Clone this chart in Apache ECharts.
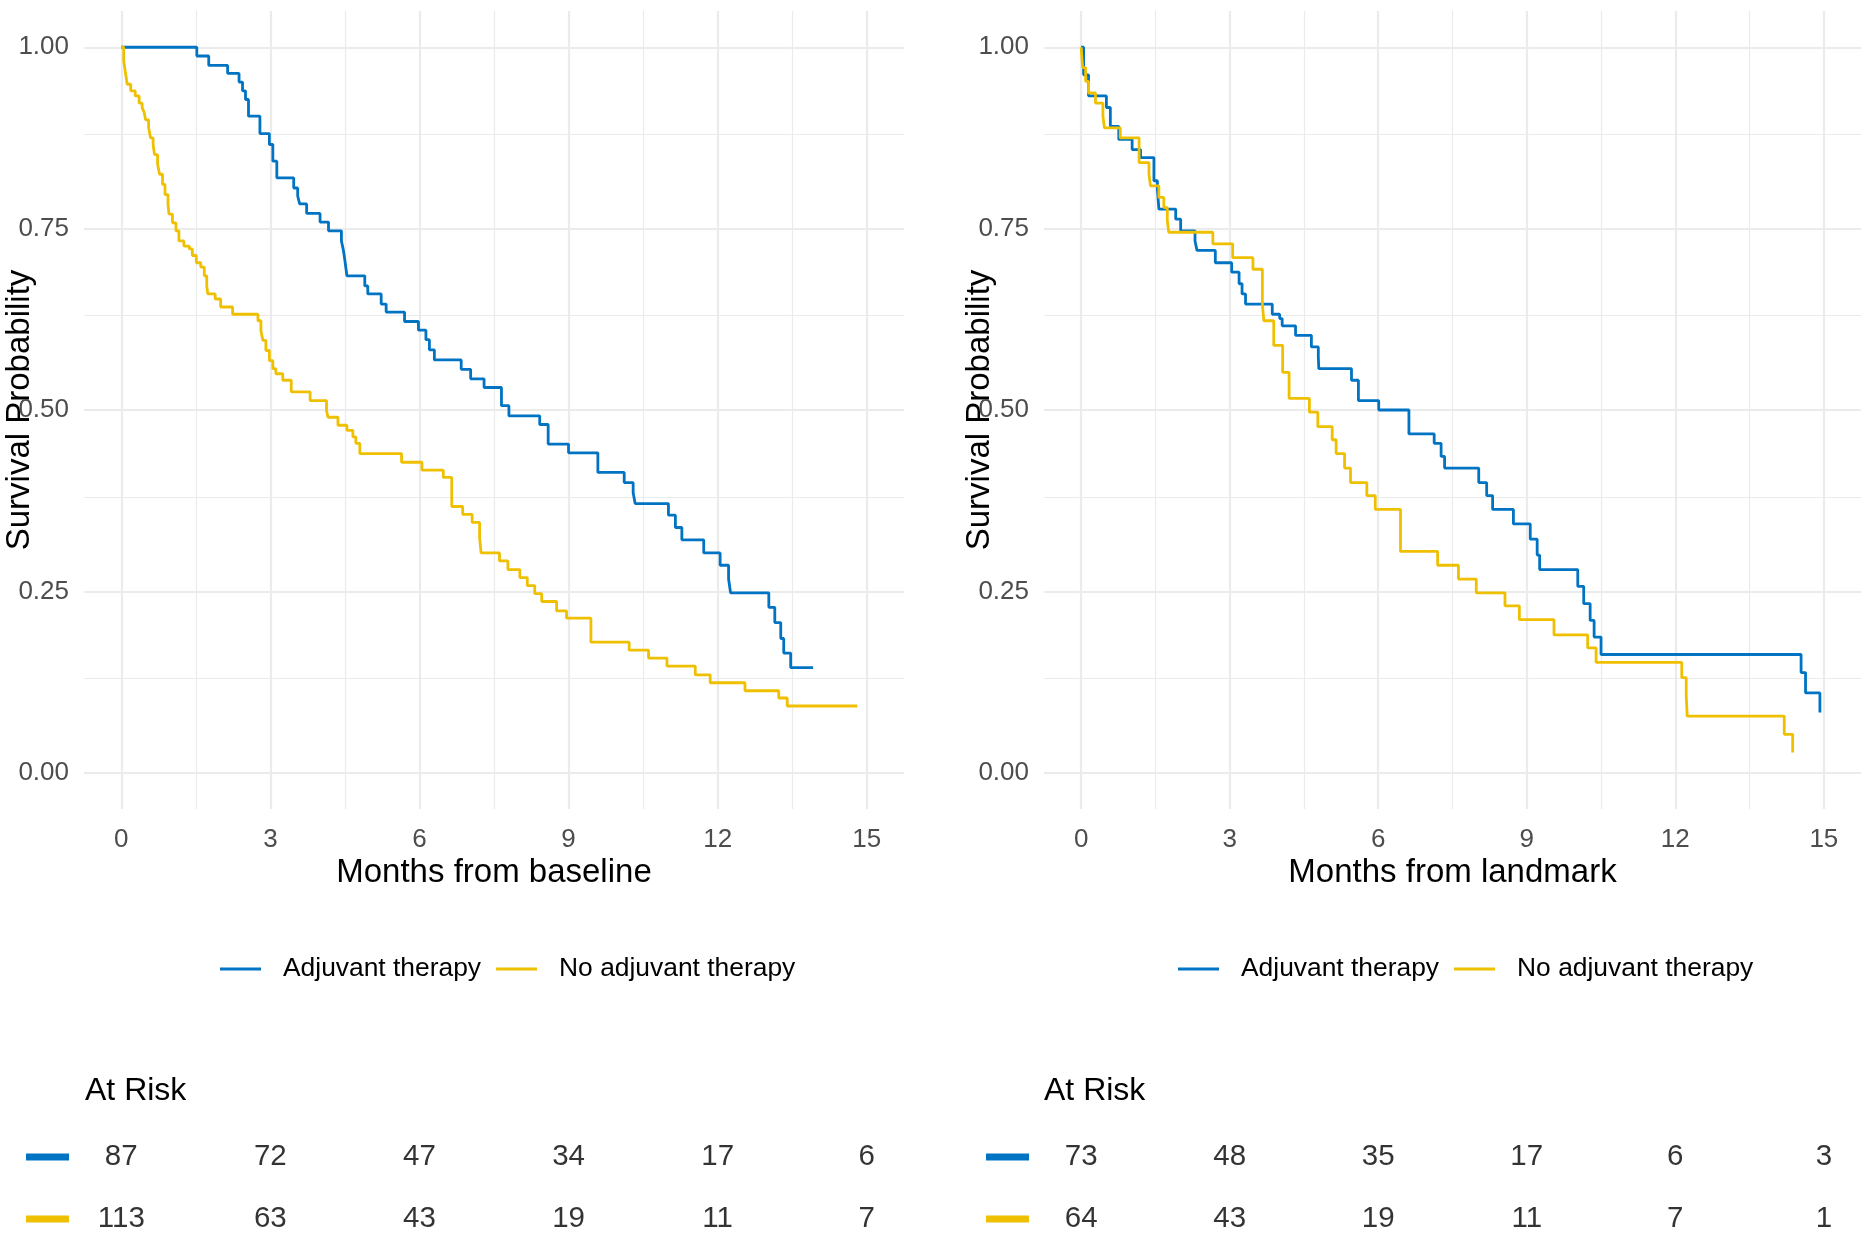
<!DOCTYPE html>
<html><head><meta charset="utf-8">
<script src="https://cdn.jsdelivr.net/npm/echarts@6/dist/echarts.min.js"></script>
<style>html,body{margin:0;padding:0;background:#fff}#c{width:1871px;height:1234px}</style>
</head><body><div id="c"></div>
<script>
// ---------------- data ----------------
const groups = ['Adjuvant therapy', 'No adjuvant therapy'];
const xTitleLeft = 'Months from baseline';
const xTitleRight = 'Months from landmark';
const yTitle = 'Survival Probability';
const riskTitle = 'At Risk';
const xTicks = [0, 3, 6, 9, 12, 15];
const xMinorGrid = [1.5, 4.5, 7.5, 10.5, 13.5];
const yTicks = [0, 0.25, 0.5, 0.75, 1];
const yMinorGrid = [0.125, 0.375, 0.625, 0.875];

// Left panel: months from baseline
const baseAdjTime = [0, 1.52, 1.76, 2.14, 2.37, 2.44, 2.50, 2.56, 2.79, 2.98, 3.05, 3.13, 3.47, 3.55, 3.59, 3.73, 4.00, 4.17, 4.43, 4.47, 4.50, 4.54, 4.90, 4.96, 5.23, 5.33, 5.70, 5.98, 6.13, 6.20, 6.30, 6.84, 7.03, 7.30, 7.65, 7.80, 8.42, 8.59, 9.00, 9.59, 10.12, 10.30, 10.34, 11.01, 11.15, 11.28, 11.72, 12.05, 12.22, 12.26, 13.03, 13.15, 13.27, 13.33, 13.47, 13.92];
const baseAdjSurv = [1, 0.988, 0.975, 0.964, 0.952, 0.940, 0.928, 0.905, 0.881, 0.866, 0.843, 0.820, 0.806, 0.795, 0.784, 0.771, 0.759, 0.747, 0.733, 0.720, 0.706, 0.685, 0.671, 0.660, 0.646, 0.635, 0.622, 0.610, 0.597, 0.583, 0.569, 0.556, 0.543, 0.531, 0.506, 0.492, 0.480, 0.453, 0.441, 0.414, 0.400, 0.386, 0.371, 0.355, 0.338, 0.321, 0.303, 0.286, 0.267, 0.248, 0.228, 0.207, 0.185, 0.165, 0.145, 0.145];
const baseNoTime = [0, 0.05, 0.09, 0.12, 0.19, 0.28, 0.36, 0.42, 0.46, 0.49, 0.55, 0.59, 0.64, 0.67, 0.73, 0.77, 0.83, 0.88, 0.94, 0.96, 1.03, 1.10, 1.16, 1.26, 1.37, 1.43, 1.51, 1.60, 1.67, 1.72, 1.74, 1.89, 2.00, 2.24, 2.75, 2.81, 2.85, 2.91, 2.98, 3.05, 3.11, 3.25, 3.42, 3.80, 4.13, 4.16, 4.36, 4.54, 4.66, 4.72, 4.80, 5.64, 6.05, 6.48, 6.65, 6.87, 7.06, 7.21, 7.24, 7.61, 7.78, 8.02, 8.17, 8.32, 8.46, 8.76, 8.96, 9.45, 10.22, 10.61, 10.98, 11.55, 11.85, 12.55, 13.23, 13.40, 14.81];
const baseNoSurv = [1, 0.981, 0.962, 0.949, 0.940, 0.933, 0.923, 0.917, 0.910, 0.900, 0.889, 0.875, 0.866, 0.852, 0.839, 0.825, 0.811, 0.797, 0.784, 0.770, 0.758, 0.747, 0.733, 0.726, 0.722, 0.713, 0.703, 0.697, 0.685, 0.671, 0.660, 0.653, 0.642, 0.632, 0.623, 0.609, 0.596, 0.582, 0.568, 0.557, 0.550, 0.541, 0.525, 0.513, 0.499, 0.490, 0.479, 0.472, 0.463, 0.454, 0.440, 0.428, 0.417, 0.407, 0.367, 0.356, 0.345, 0.324, 0.303, 0.292, 0.280, 0.269, 0.258, 0.247, 0.236, 0.223, 0.213, 0.180, 0.169, 0.158, 0.147, 0.135, 0.124, 0.113, 0.103, 0.092, 0.092];

// Right panel: months from landmark
const landAdjTime = [0, 0.05, 0.15, 0.51, 0.59, 0.76, 1.03, 1.20, 1.47, 1.54, 1.57, 1.91, 2.01, 2.30, 2.34, 2.71, 3.04, 3.19, 3.25, 3.32, 3.86, 4.01, 4.06, 4.33, 4.65, 4.79, 4.80, 5.46, 5.60, 6.01, 6.62, 7.13, 7.27, 7.34, 8.03, 8.19, 8.31, 8.73, 9.07, 9.21, 9.26, 10.03, 10.15, 10.28, 10.36, 10.50, 14.54, 14.63, 14.92];
const landAdjSurv = [1, 0.962, 0.933, 0.917, 0.891, 0.873, 0.859, 0.848, 0.816, 0.804, 0.777, 0.763, 0.747, 0.733, 0.720, 0.703, 0.690, 0.674, 0.660, 0.646, 0.632, 0.626, 0.616, 0.603, 0.587, 0.573, 0.557, 0.541, 0.513, 0.500, 0.467, 0.454, 0.436, 0.420, 0.400, 0.382, 0.363, 0.343, 0.322, 0.300, 0.280, 0.257, 0.233, 0.210, 0.187, 0.163, 0.138, 0.110, 0.083];
const landNoTime = [0, 0.03, 0.09, 0.15, 0.29, 0.44, 0.47, 0.79, 1.17, 1.37, 1.40, 1.57, 1.67, 1.74, 1.77, 2.66, 3.06, 3.47, 3.66, 3.69, 3.89, 4.07, 4.20, 4.61, 4.78, 5.07, 5.15, 5.32, 5.44, 5.77, 5.94, 6.45, 7.20, 7.62, 7.98, 8.56, 8.85, 9.55, 10.23, 10.40, 12.13, 12.22, 12.24, 14.20, 14.37];
const landNoSurv = [1, 0.972, 0.953, 0.937, 0.923, 0.905, 0.889, 0.875, 0.841, 0.825, 0.809, 0.793, 0.779, 0.761, 0.745, 0.729, 0.710, 0.694, 0.646, 0.623, 0.589, 0.552, 0.516, 0.497, 0.477, 0.459, 0.440, 0.420, 0.400, 0.382, 0.363, 0.305, 0.286, 0.267, 0.248, 0.230, 0.211, 0.190, 0.172, 0.152, 0.131, 0.106, 0.078, 0.053, 0.028];

// Numbers at risk
const riskTimes = [0, 3, 6, 9, 12, 15];
const riskBaseAdj = [87, 72, 47, 34, 17, 6];
const riskBaseNo = [113, 63, 43, 19, 11, 7];
const riskLandAdj = [73, 48, 35, 17, 6, 3];
const riskLandNo = [64, 43, 19, 11, 7, 1];

// ---------------- styling / build ----------------
const FONT = '"Liberation Sans", Arial, sans-serif';
const BLUE = '#0073C2', YELLOW = '#EFC000';
const GRIDC = '#EBEBEB';
const zip = (a, b) => a.map((v, i) => [v, b[i]]);

const panels = [
  { left: 84, width: 820, xTitle: xTitleLeft, adj: zip(baseAdjTime, baseAdjSurv), no: zip(baseNoTime, baseNoSurv), rAdj: riskBaseAdj, rNo: riskBaseNo, legendLeft: 220, titleLeft: 85 },
  { left: 1044, width: 817, xTitle: xTitleRight, adj: zip(landAdjTime, landAdjSurv), no: zip(landNoTime, landNoSurv), rAdj: riskLandAdj, rNo: riskLandNo, legendLeft: 1178, titleLeft: 1044 }
];

const grid = [], xAxis = [], yAxis = [], series = [], legend = [], title = [];

const major = { width: 2.2, color: GRIDC, type: 'solid' };
const minor = { width: 1.2, color: GRIDC, type: 'solid' };
const gridLineData = [].concat(
  xTicks.map(v => ({ xAxis: v, lineStyle: major })),
  xMinorGrid.map(v => ({ xAxis: v, lineStyle: minor })),
  yTicks.map(v => ({ yAxis: v, lineStyle: major })),
  yMinorGrid.map(v => ({ yAxis: v, lineStyle: minor }))
);

panels.forEach((p, i) => {
  grid.push({ left: p.left, width: p.width, top: 11, height: 798, containLabel: false, outerBoundsMode: 'none' });
  xAxis.push({
    gridIndex: i, type: 'value', min: -0.75, max: 15.75, interval: 0.75,
    name: p.xTitle, nameLocation: 'middle', nameGap: 47, nameMoveOverlap: false,
    nameTextStyle: { fontSize: 33, color: '#000', fontFamily: FONT },
    axisLine: { show: false }, axisTick: { show: false }, splitLine: { show: false },
    axisLabel: { margin: 18, fontSize: 26, color: '#4D4D4D', fontFamily: FONT, hideOverlap: false,
      formatter: v => (xTicks.some(t => Math.abs(t - v) < 1e-6) ? String(Math.round(v)) : '') }
  });
  yAxis.push({
    gridIndex: i, type: 'value', min: -0.05, max: 1.05, interval: 0.05,
    name: yTitle, nameLocation: 'middle', nameRotate: 90, nameGap: 48, nameMoveOverlap: false,
    nameTextStyle: { fontSize: 33, color: '#000', fontFamily: FONT },
    axisLine: { show: false }, axisTick: { show: false }, splitLine: { show: false },
    axisLabel: { margin: 15, fontSize: 26, color: '#4D4D4D', fontFamily: FONT, hideOverlap: false,
      formatter: v => (yTicks.some(t => Math.abs(t - v) < 1e-6) ? v.toFixed(2) : '') }
  });
  series.push({
    type: 'line', name: '_grid' + i, xAxisIndex: i, yAxisIndex: i, data: [], silent: true,
    markLine: { silent: true, symbol: 'none', z: 0, label: { show: false }, animation: false,
      lineStyle: { type: 'solid', color: GRIDC },
      emphasis: { disabled: true }, data: gridLineData }
  });
  series.push({
    type: 'line', name: groups[0], xAxisIndex: i, yAxisIndex: i, step: 'end', z: 3,
    showSymbol: false, symbol: 'none', data: p.adj,
    itemStyle: { color: BLUE }, lineStyle: { color: BLUE, width: 2.8 }
  });
  series.push({
    type: 'line', name: groups[1], xAxisIndex: i, yAxisIndex: i, step: 'end', z: 3,
    showSymbol: false, symbol: 'none', data: p.no,
    itemStyle: { color: YELLOW }, lineStyle: { color: YELLOW, width: 2.8 }
  });
  legend.push({
    left: p.legendLeft, top: 956, padding: 0, orient: 'horizontal',
    data: groups, icon: 'rect', itemWidth: 41, itemHeight: 3, itemGap: 15,
    textStyle: { fontSize: 26.4, color: '#000', fontFamily: FONT, padding: [0, 0, 0, 17] }
  });
  title.push({
    text: riskTitle, left: p.titleLeft, top: 1075, padding: 0,
    textStyle: { fontSize: 32, fontWeight: 'normal', color: '#000', fontFamily: FONT }
  });
});

// At-risk tables
panels.forEach((p, i) => {
  const gi = 2 + i;
  grid.push({ left: p.left, width: p.width, top: 1126, height: 124, containLabel: false, outerBoundsMode: 'none' });
  xAxis.push({ gridIndex: gi, type: 'value', min: -0.75, max: 15.75, show: false });
  yAxis.push({
    gridIndex: gi, type: 'category', data: [groups[1], groups[0]],
    axisLine: { show: false }, axisTick: { show: false }, splitLine: { show: false },
    axisLabel: { margin: 15, formatter: v => (v === groups[0] ? '{a| }' : '{b| }'),
      rich: { a: { width: 43, height: 7, backgroundColor: BLUE, fontSize: 2 },
              b: { width: 43, height: 7, backgroundColor: YELLOW, fontSize: 2 } } }
  });
  const rows = [[groups[0], p.rAdj], [groups[1], p.rNo]];
  rows.forEach(([g, vals]) => {
    series.push({
      type: 'scatter', name: 'risk_' + g + i, xAxisIndex: gi, yAxisIndex: gi, silent: true,
      symbol: 'circle', symbolSize: 1, itemStyle: { color: 'rgba(0,0,0,0)' },
      data: riskTimes.map((t, k) => [t, g, vals[k]]),
      label: { show: true, position: 'inside', fontSize: 29.5, color: '#000', fontFamily: FONT,
        formatter: q => String(q.value[2]) }
    });
  });
});

const chart = echarts.init(document.getElementById('c'), null, { renderer: 'canvas' });
chart.setOption({
  animation: false,
  backgroundColor: '#fff',
  textStyle: { fontFamily: FONT },
  title, legend, grid, xAxis, yAxis, series
});
</script></body></html>
